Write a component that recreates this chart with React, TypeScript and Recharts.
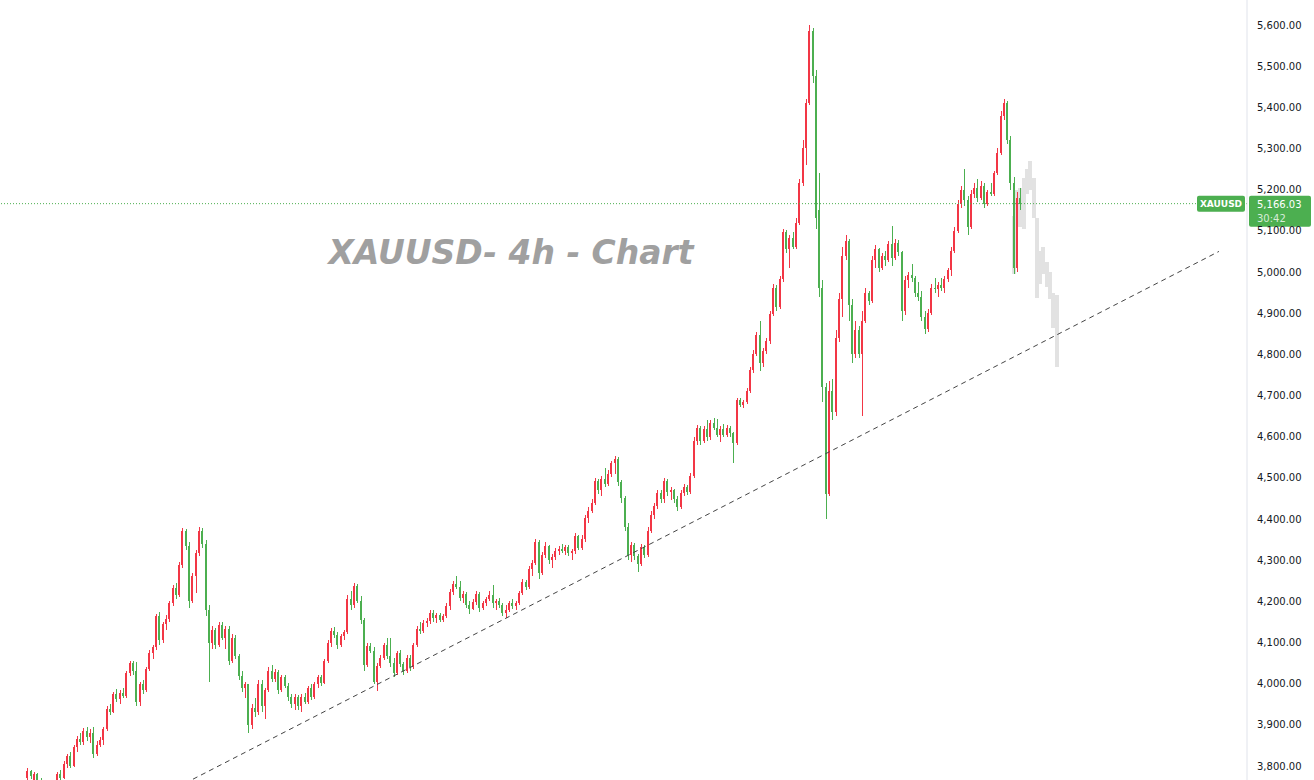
import React from "react";
import { ComposedChart, Bar, XAxis, YAxis, ReferenceLine } from "recharts";

// 4h bars, oldest first: [open, high, low, close]
const baseAndFirstLeg = [
  [3770, 3795, 3765, 3788], [3788, 3790, 3768, 3775], [3765, 3785, 3760, 3780], [3780, 3784, 3762, 3766],
  [3766, 3770, 3745, 3750], [3750, 3762, 3735, 3745], [3745, 3758, 3730, 3740], [3740, 3752, 3728, 3748],
  [3748, 3765, 3740, 3760], [3760, 3785, 3755, 3780], [3780, 3790, 3762, 3770], [3770, 3812, 3768, 3805],
  [3805, 3830, 3795, 3825], [3825, 3835, 3795, 3800], [3800, 3850, 3798, 3845], [3845, 3872, 3835, 3865],
  [3865, 3880, 3850, 3858], [3858, 3892, 3852, 3885], [3885, 3895, 3860, 3870], [3870, 3890, 3855, 3880],
  [3880, 3895, 3820, 3830], [3830, 3860, 3825, 3852], [3852, 3870, 3845, 3862], [3862, 3895, 3850, 3890],
];

const rallyToFirstTop = [
  [3890, 3945, 3885, 3938], [3938, 3950, 3925, 3932], [3932, 3980, 3928, 3975], [3975, 3988, 3955, 3962],
  [3962, 3985, 3950, 3978], [3978, 3990, 3965, 3970], [3970, 4030, 3965, 4025], [4025, 4055, 4018, 4050],
  [4050, 4055, 4020, 4030], [4030, 4052, 3945, 3955], [3955, 4005, 3945, 3998], [3998, 4010, 3975, 3985],
  [3985, 4040, 3980, 4035], [4035, 4082, 4030, 4075], [4075, 4095, 4060, 4088], [4088, 4170, 4082, 4165],
  [4165, 4175, 4095, 4105], [4105, 4150, 4100, 4145], [4145, 4168, 4130, 4158], [4158, 4200, 4150, 4195],
  [4195, 4240, 4188, 4232], [4232, 4245, 4205, 4215], [4215, 4295, 4210, 4288], [4288, 4378, 4280, 4370],
  [4370, 4375, 4325, 4335], [4335, 4345, 4185, 4200], [4200, 4270, 4195, 4262], [4262, 4325, 4220, 4318],
  [4318, 4380, 4310, 4372], [4372, 4378, 4330, 4340], [4340, 4350, 4165, 4180], [4180, 4190, 4005, 4100],
];

const pullbackToLow = [
  [4100, 4140, 4085, 4130], [4130, 4135, 4085, 4095], [4095, 4150, 4090, 4142], [4142, 4150, 4105, 4112],
  [4112, 4140, 4085, 4132], [4132, 4140, 4045, 4055], [4055, 4120, 4050, 4110], [4110, 4118, 4060, 4068],
  [4068, 4072, 4010, 4018], [4018, 4030, 3980, 3990], [3990, 4005, 3965, 3998], [3998, 4000, 3880, 3900],
  [3900, 3950, 3890, 3942], [3942, 3965, 3920, 3930], [3930, 4010, 3925, 4000], [4000, 4010, 3930, 3945],
  [3945, 3990, 3915, 3985], [3985, 4040, 3980, 4030], [4030, 4045, 4005, 4012], [4012, 4035, 4005, 4028],
  [4028, 4032, 3975, 3985], [3985, 4020, 3980, 4015], [4015, 4022, 3990, 3995], [3995, 4002, 3958, 3968],
  [3968, 3975, 3940, 3950], [3950, 3975, 3935, 3968], [3968, 3972, 3935, 3945], [3945, 3975, 3930, 3968],
  [3968, 3978, 3950, 3955], [3955, 3995, 3950, 3990], [3990, 3998, 3960, 3968], [3968, 4005, 3962, 4000],
  [4000, 4020, 3990, 4015], [4015, 4022, 3995, 4002],
];

const sidewaysRange = [
  [4002, 4060, 3998, 4055], [4055, 4105, 4050, 4098], [4098, 4135, 4090, 4128], [4128, 4138, 4110, 4118],
  [4118, 4125, 4085, 4095], [4095, 4120, 4090, 4115], [4115, 4130, 4105, 4125], [4125, 4215, 4120, 4205],
  [4205, 4225, 4180, 4190], [4190, 4245, 4185, 4238], [4238, 4242, 4195, 4200], [4200, 4212, 4145, 4155],
  [4155, 4160, 4030, 4045], [4045, 4100, 4040, 4092], [4092, 4098, 4075, 4080], [4080, 4088, 4000, 4005],
  [4005, 4050, 3982, 4042], [4042, 4070, 4038, 4062], [4062, 4100, 4058, 4095], [4095, 4110, 4060, 4068],
  [4068, 4110, 4040, 4050], [4050, 4062, 4015, 4025], [4025, 4080, 4020, 4075], [4075, 4082, 4040, 4048],
  [4048, 4052, 4020, 4030], [4030, 4070, 4025, 4062], [4062, 4070, 4030, 4040], [4040, 4100, 4035, 4095],
  [4095, 4140, 4090, 4132], [4132, 4150, 4120, 4128], [4128, 4155, 4122, 4148], [4148, 4160, 4138, 4152],
  [4152, 4180, 4145, 4172], [4172, 4178, 4150, 4160], [4160, 4172, 4148, 4168], [4168, 4172, 4150, 4155],
  [4155, 4170, 4150, 4165], [4165, 4195, 4160, 4188],
];

const steadyClimb = [
  [4188, 4230, 4180, 4222], [4222, 4250, 4215, 4242], [4242, 4262, 4230, 4235], [4235, 4250, 4200, 4208],
  [4208, 4225, 4195, 4218], [4218, 4222, 4185, 4190], [4190, 4200, 4170, 4182], [4182, 4205, 4178, 4198],
  [4198, 4225, 4192, 4218], [4218, 4222, 4175, 4185], [4185, 4200, 4178, 4195], [4195, 4210, 4188, 4205],
  [4205, 4225, 4200, 4215], [4215, 4240, 4185, 4195], [4195, 4205, 4180, 4200], [4200, 4208, 4185, 4190],
  [4190, 4195, 4165, 4172], [4172, 4190, 4160, 4180], [4180, 4200, 4175, 4195], [4195, 4205, 4182, 4188],
  [4188, 4200, 4178, 4195], [4195, 4225, 4190, 4220], [4220, 4255, 4215, 4248], [4248, 4252, 4228, 4235],
  [4235, 4285, 4230, 4278], [4278, 4300, 4262, 4292], [4292, 4352, 4288, 4345], [4345, 4350, 4255, 4270],
  [4270, 4320, 4265, 4312], [4312, 4345, 4305, 4335], [4335, 4338, 4290, 4300], [4300, 4315, 4280, 4308],
  [4308, 4330, 4300, 4322], [4322, 4335, 4312, 4328], [4328, 4340, 4318, 4322], [4322, 4338, 4312, 4332],
  [4332, 4336, 4310, 4318], [4318, 4328, 4300, 4322], [4322, 4365, 4315, 4358], [4358, 4362, 4325, 4330],
  [4330, 4360, 4325, 4352], [4352, 4410, 4345, 4402], [4402, 4430, 4390, 4420], [4420, 4448, 4415, 4440],
  [4440, 4500, 4435, 4492], [4492, 4498, 4460, 4470], [4470, 4505, 4455, 4498], [4498, 4525, 4478, 4485],
  [4485, 4520, 4480, 4510], [4510, 4540, 4502, 4535], [4535, 4552, 4510, 4545],
];

const dipToTrendline = [
  [4545, 4550, 4480, 4490], [4490, 4495, 4440, 4450], [4450, 4455, 4370, 4380], [4380, 4390, 4300, 4312],
  [4312, 4345, 4295, 4338], [4338, 4342, 4300, 4310], [4310, 4315, 4272, 4290], [4290, 4340, 4285, 4332],
  [4332, 4338, 4305, 4312], [4312, 4380, 4308, 4372], [4372, 4420, 4365, 4410], [4410, 4440, 4400, 4432],
  [4432, 4470, 4425, 4462], [4462, 4470, 4440, 4448], [4448, 4500, 4440, 4492], [4492, 4498, 4455, 4465],
  [4465, 4478, 4445, 4470], [4470, 4472, 4440, 4448], [4448, 4455, 4420, 4430], [4430, 4470, 4425, 4462],
  [4462, 4485, 4455, 4478], [4478, 4482, 4458, 4465], [4465, 4512, 4460, 4505],
];

const parabolicRun = [
  [4505, 4600, 4500, 4590], [4590, 4628, 4580, 4620], [4620, 4625, 4580, 4590], [4590, 4625, 4585, 4618],
  [4618, 4640, 4590, 4598], [4598, 4640, 4592, 4632], [4632, 4645, 4615, 4620], [4620, 4642, 4598, 4605],
  [4605, 4625, 4588, 4618], [4618, 4630, 4598, 4604], [4604, 4628, 4600, 4622], [4622, 4625, 4600, 4608],
  [4608, 4612, 4535, 4585], [4585, 4695, 4580, 4688], [4688, 4695, 4672, 4678], [4678, 4690, 4670, 4685],
  [4685, 4718, 4680, 4712], [4712, 4770, 4705, 4762], [4762, 4810, 4755, 4802], [4802, 4855, 4795, 4848],
  [4848, 4880, 4760, 4780], [4780, 4815, 4770, 4808], [4808, 4840, 4800, 4832], [4832, 4905, 4825, 4898],
  [4898, 4970, 4892, 4962], [4962, 4968, 4905, 4915], [4915, 4990, 4910, 4982], [4982, 5105, 4975, 5098],
  [5098, 5102, 5045, 5055], [5055, 5090, 5010, 5082], [5082, 5098, 5055, 5060], [5060, 5130, 5055, 5120],
  [5120, 5225, 5115, 5215], [5215, 5320, 5208, 5300], [5300, 5420, 5260, 5410], [5410, 5600, 5405, 5585],
];

const crashAndRebound = [
  [5585, 5592, 5460, 5475], [5475, 5490, 5105, 5130], [5150, 5240, 4940, 4960], [4960, 4980, 4685, 4720],
  [4720, 4730, 4400, 4460], [4460, 4735, 4455, 4710], [4710, 4740, 4640, 4660], [4660, 4860, 4650, 4840],
  [4840, 4950, 4830, 4935], [4935, 5060, 4890, 5040], [5040, 5090, 5030, 5075], [5075, 5080, 4880, 4920],
  [4920, 4935, 4780, 4800], [4800, 4880, 4790, 4860], [4860, 4870, 4790, 4800], [4800, 4905, 4650, 4880],
  [4880, 4960, 4875, 4950], [4950, 4955, 4920, 4930], [4930, 5040, 4925, 5030], [5030, 5065, 5010, 5055],
  [5055, 5058, 5000, 5010], [5010, 5045, 5005, 5038], [5038, 5050, 5015, 5030], [5030, 5075, 5025, 5068],
  [5068, 5112, 5015, 5035], [5035, 5080, 5030, 5070], [5070, 5078, 5040, 5048], [5048, 5052, 4880, 4905],
];

const secondTopAndChop = [
  [4905, 4990, 4895, 4980], [4980, 5000, 4960, 4992], [4992, 5020, 4975, 4985], [4985, 4990, 4940, 4950],
  [4950, 4975, 4930, 4940], [4940, 4955, 4880, 4890], [4890, 4905, 4850, 4862], [4862, 4910, 4855, 4900],
  [4900, 4970, 4895, 4962], [4962, 4985, 4950, 4958], [4958, 4975, 4940, 4968], [4968, 4985, 4955, 4960],
  [4960, 4990, 4950, 4982], [4982, 5010, 4975, 5005], [5005, 5060, 4990, 5050], [5050, 5110, 5045, 5100],
  [5100, 5175, 5095, 5165], [5165, 5210, 5155, 5200], [5200, 5250, 5160, 5175], [5175, 5185, 5090, 5110],
  [5110, 5200, 5105, 5190], [5190, 5215, 5180, 5205], [5205, 5225, 5170, 5180], [5180, 5220, 5175, 5210],
  [5210, 5215, 5155, 5165], [5165, 5200, 5160, 5195], [5195, 5215, 5185, 5190], [5190, 5245, 5185, 5240],
  [5240, 5300, 5235, 5290], [5290, 5390, 5285, 5380], [5380, 5420, 5370, 5410], [5410, 5415, 5310, 5320],
  [5320, 5330, 5200, 5215], [5215, 5230, 4995, 5010], [5010, 5195, 5000, 5180], [5180, 5205, 5150, 5166.03],
];

// projected (ghost) bars drawn over the last candles
const ghostHighs = [5135, 5200, 5205, 5228, 5250, 5270, 5228, 5130, 5050, 5060, 5025, 5000, 4950, 4945];
const ghostLows = [4995, 5110, 5110, 5105, 5190, 5200, 5130, 4935, 4970, 4995, 4965, 4935, 4865, 4770];

const priceTicks = [3800, 3900, 4000, 4100, 4200, 4300, 4400, 4500, 4600, 4700, 4800, 4900, 5000, 5100, 5200, 5300, 5400, 5500, 5600];
const symbol = "XAUUSD";
const lastPrice = 5166.03;
const countdown = "30:42";
const title = "XAUUSD- 4h - Chart";
const trendFrom = { slot: 58, price: 3768 };
const trendTo = { slot: 369, price: 5050 };

const RED = "#F23645";
const GREEN = "#4CAF50";
const LEAD = 8; // empty slots left of the first bar
const SLOTS = 378;
const GHOST_START = 299; // candle index of first ghost bar

const candles = [
  ...baseAndFirstLeg, ...rallyToFirstTop, ...pullbackToLow, ...sidewaysRange, ...steadyClimb,
  ...dipToTrendline, ...parabolicRun, ...crashAndRebound, ...secondTopAndChop,
];

const data = Array.from({ length: SLOTS }, (_, k) => {
  const bar = candles[k - LEAD];
  const g = k - LEAD - GHOST_START;
  return {
    k,
    o: bar ? bar[0] : null,
    h: bar ? bar[1] : null,
    l: bar ? bar[2] : null,
    c: bar ? bar[3] : null,
    gh: g >= 0 && g < ghostHighs.length ? ghostHighs[g] : null,
    gl: g >= 0 && g < ghostLows.length ? ghostLows[g] : null,
  };
});

const fmt = (v: number) => v.toLocaleString("en-US", { minimumFractionDigits: 2, maximumFractionDigits: 2 });

function Candle(props: any) {
  const { x, y, width, height, payload } = props;
  if (payload == null || payload.h == null || !isFinite(y)) return null;
  const span = payload.h - payload.l;
  const per = span > 0 ? height / span : 0;
  const cx = Math.floor(x + width / 2);
  const color = payload.c >= payload.o ? RED : GREEN;
  const top = Math.round(y);
  const bottom = Math.round(y + height);
  const bTop = Math.round(y + (payload.h - Math.max(payload.o, payload.c)) * per);
  const bBot = Math.round(y + (payload.h - Math.min(payload.o, payload.c)) * per);
  return (
    <g>
      <rect x={cx} y={top} width={1} height={Math.max(1, bottom - top)} fill={color} />
      <rect x={cx - 1} y={bTop} width={2} height={Math.max(1, bBot - bTop)} fill={color} />
    </g>
  );
}

function Ghost(props: any) {
  const { x, y, width, height, payload } = props;
  if (payload == null || payload.gh == null || !isFinite(y)) return null;
  const cx = Math.floor(x + width / 2);
  return <rect x={cx - 2} y={Math.round(y)} width={4} height={Math.max(1, Math.round(height))} fill="#e2e2e2" />;
}

function PriceTag(props: any) {
  const vb = props.viewBox || {};
  const right = (vb.x || 0) + (vb.width || 0);
  const y = vb.y || 0;
  return (
    <g fontFamily="DejaVu Sans">
      <rect x={right - 50} y={y - 8} width={48} height={16} rx={2} fill={GREEN} />
      <text x={right - 26} y={y + 3.5} textAnchor="middle" fill="#fff" fontSize={9} fontWeight="bold">
        {symbol}
      </text>
      <rect x={right + 2} y={y - 8} width={62} height={31} rx={2} fill={GREEN} />
      <text x={right + 10} y={y + 4} fill="#fff" fontSize={10}>
        {fmt(lastPrice)}
      </text>
      <text x={right + 10} y={y + 18} fill="rgba(255,255,255,0.78)" fontSize={10}>
        {countdown}
      </text>
    </g>
  );
}

export default function App() {
  return (
    <div style={{ position: "absolute", left: 0, top: 0, width: 1314, height: 780, background: "#fff", overflow: "hidden" }}>
      <ComposedChart width={1314} height={780} data={data} margin={{ top: 0, right: 0, left: 0, bottom: 0 }} barCategoryGap={0}>
        <XAxis xAxisId="bars" dataKey="k" hide />
        <XAxis xAxisId="ghost" dataKey="k" hide />
        <YAxis
          orientation="right"
          width={67}
          domain={[3766, 5660.7]}
          allowDataOverflow
          ticks={priceTicks}
          interval={0}
          tickFormatter={fmt}
          tickLine={false}
          tickMargin={4}
          axisLine={{ stroke: "#e0e3eb" }}
          tick={{ fontSize: 10, fill: "#131722", fontFamily: "DejaVu Sans" }}
        />
        <ReferenceLine
          xAxisId="bars"
          segment={[{ x: trendFrom.slot, y: trendFrom.price }, { x: trendTo.slot, y: trendTo.price }]}
          stroke="#444"
          strokeDasharray="5 4"
          ifOverflow="visible"
        />
        <Bar xAxisId="ghost" dataKey={(d: any) => (d.gh == null ? null : [d.gl, d.gh])} shape={Ghost} isAnimationActive={false} />
        <Bar xAxisId="bars" dataKey={(d: any) => (d.h == null ? null : [d.l, d.h])} shape={Candle} isAnimationActive={false} />
        <ReferenceLine xAxisId="bars" y={lastPrice} stroke={GREEN} strokeDasharray="1 2" label={PriceTag} />
      </ComposedChart>
      <svg width={1314} height={780} style={{ position: "absolute", left: 0, top: 0, pointerEvents: "none" }}>
        <text x={511} y={264} textAnchor="middle" fill="#a0a0a0" fontSize={33} fontWeight="bold" fontStyle="italic" fontFamily="DejaVu Sans">
          {title}
        </text>
      </svg>
    </div>
  );
}
